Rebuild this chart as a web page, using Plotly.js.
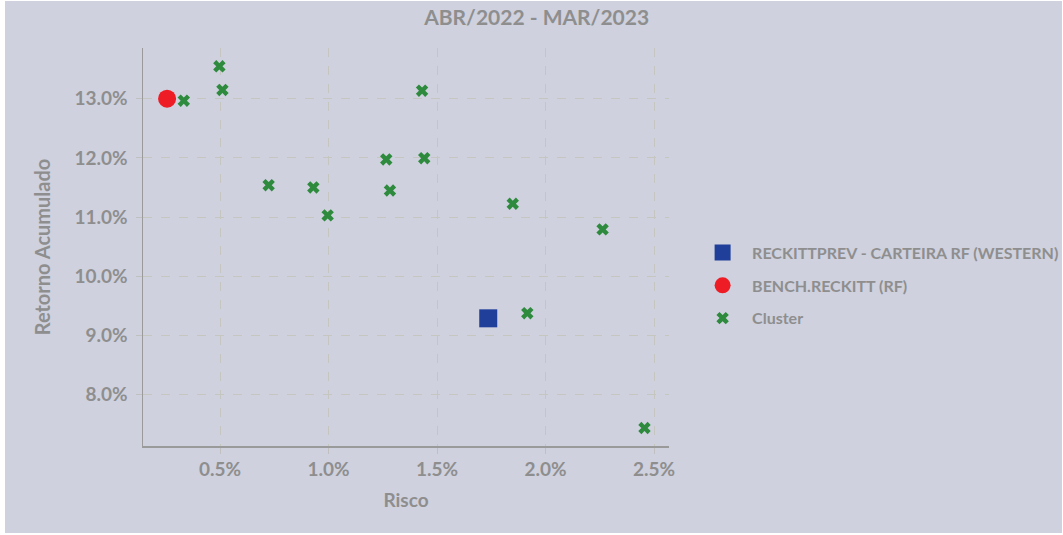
<!DOCTYPE html>
<html>
<head>
<meta charset="utf-8">
<script src="https://cdn.plot.ly/plotly-3.0.1.min.js"></script>
<style>
html,body{margin:0;padding:0;background:#ffffff;}
#chart{position:absolute;left:5px;top:1px;width:1057px;height:532px;}
</style>
</head>
<body>
<div id="chart"></div>
<script>
// Data (Risco %, Retorno Acumulado %)
const portfolioName = "RECKITTPREV - CARTEIRA RF (WESTERN)";
const portfolioRisk = [1.736];
const portfolioReturn = [9.29];

const benchName = "BENCH.RECKITT (RF)";
const benchRisk = [0.256];
const benchReturn = [13.0];

const clusterName = "Cluster";
const clusterRisk = [0.333, 0.497, 0.511, 0.724, 0.930, 0.996, 1.266, 1.283, 1.431, 1.441, 1.849, 2.263, 1.916, 2.456];
const clusterReturn = [12.966, 13.547, 13.147, 11.539, 11.50, 11.029, 11.973, 11.449, 13.135, 11.995, 11.225, 10.792, 9.377, 7.437];

const titleText = "ABR/2022 - MAR/2023";
const xTitle = "Risco";
const yTitle = "Retorno Acumulado";

const textColor = "#8e8e8e";
const fontFamily = "Lato, 'Open Sans', sans-serif";
const gridColor = "#c6c6c0";

const traces = [
  {
    x: portfolioRisk, y: portfolioReturn, name: portfolioName, type: "scatter", mode: "markers",
    legendgroup: "a",
    marker: {symbol: "square", size: 18, color: "#203f9a", line: {width: 0}}
  },
  {
    x: benchRisk, y: benchReturn, name: benchName, type: "scatter", mode: "markers",
    legendgroup: "b",
    marker: {symbol: "circle", size: 18, color: "#ee1c24", line: {width: 0}}
  },
  {
    x: clusterRisk, y: clusterReturn, name: clusterName, type: "scatter", mode: "markers",
    legendgroup: "c",
    marker: {symbol: "x", size: 11, color: "#2e8b3e", line: {width: 0}}
  }
];

const layout = {
  width: 1057, height: 532,
  paper_bgcolor: "#cfd1de",
  plot_bgcolor: "#cfd1de",
  margin: {l: 138, r: 393, t: 47, b: 87, autoexpand: false},
  font: {family: fontFamily, color: textColor, size: 16},
  title: {
    text: "<b>" + titleText + "</b>",
    x: 0.503, xref: "container", xanchor: "center",
    y: 0.968, yref: "container", yanchor: "middle",
    font: {family: fontFamily, size: 21, color: textColor}
  },
  xaxis: {
    title: {text: "<b>" + xTitle + "</b>", font: {size: 19, color: textColor}, standoff: 14},
    range: [0.145, 2.569],
    tick0: 0, dtick: 0.5,
    tickformat: ".1f", ticksuffix: "%",
    tickfont: {size: 19, color: textColor, family: fontFamily, weight: "bold"},
    showline: true, linecolor: "#9a9a9a", linewidth: 1.5,
    showgrid: true, gridcolor: gridColor, griddash: "dash", gridwidth: 1,
    ticks: "outside", ticklen: 6, tickcolor: "#c0c0c0", tickwidth: 1,
    zeroline: false, automargin: false
  },
  yaxis: {
    title: {text: "<b>" + yTitle + "</b>", font: {size: 20, color: textColor}, standoff: 18},
    range: [7.133, 13.856],
    tick0: 0, dtick: 1,
    tickformat: ".1f", ticksuffix: "%",
    tickfont: {size: 19, color: textColor, family: fontFamily, weight: "bold"},
    ticklabelstandoff: 4,
    showline: true, linecolor: "#9a9a9a", linewidth: 1.5,
    showgrid: true, gridcolor: gridColor, griddash: "dash", gridwidth: 1,
    ticks: "outside", ticklen: 6, tickcolor: "#c0c0c0", tickwidth: 1,
    zeroline: false, automargin: false
  },
  showlegend: true,
  legend: {
    xref: "container", yref: "container",
    x: 0.651, xanchor: "left",
    y: 0.465, yanchor: "middle",
    bgcolor: "rgba(0,0,0,0)",
    font: {size: 16, color: textColor, family: fontFamily, weight: "bold"},
    tracegroupgap: 9,
    itemwidth: 49,
    traceorder: "grouped"
  }
};

Plotly.newPlot("chart", traces, layout, {displayModeBar: false, staticPlot: true});
</script>
</body>
</html>
